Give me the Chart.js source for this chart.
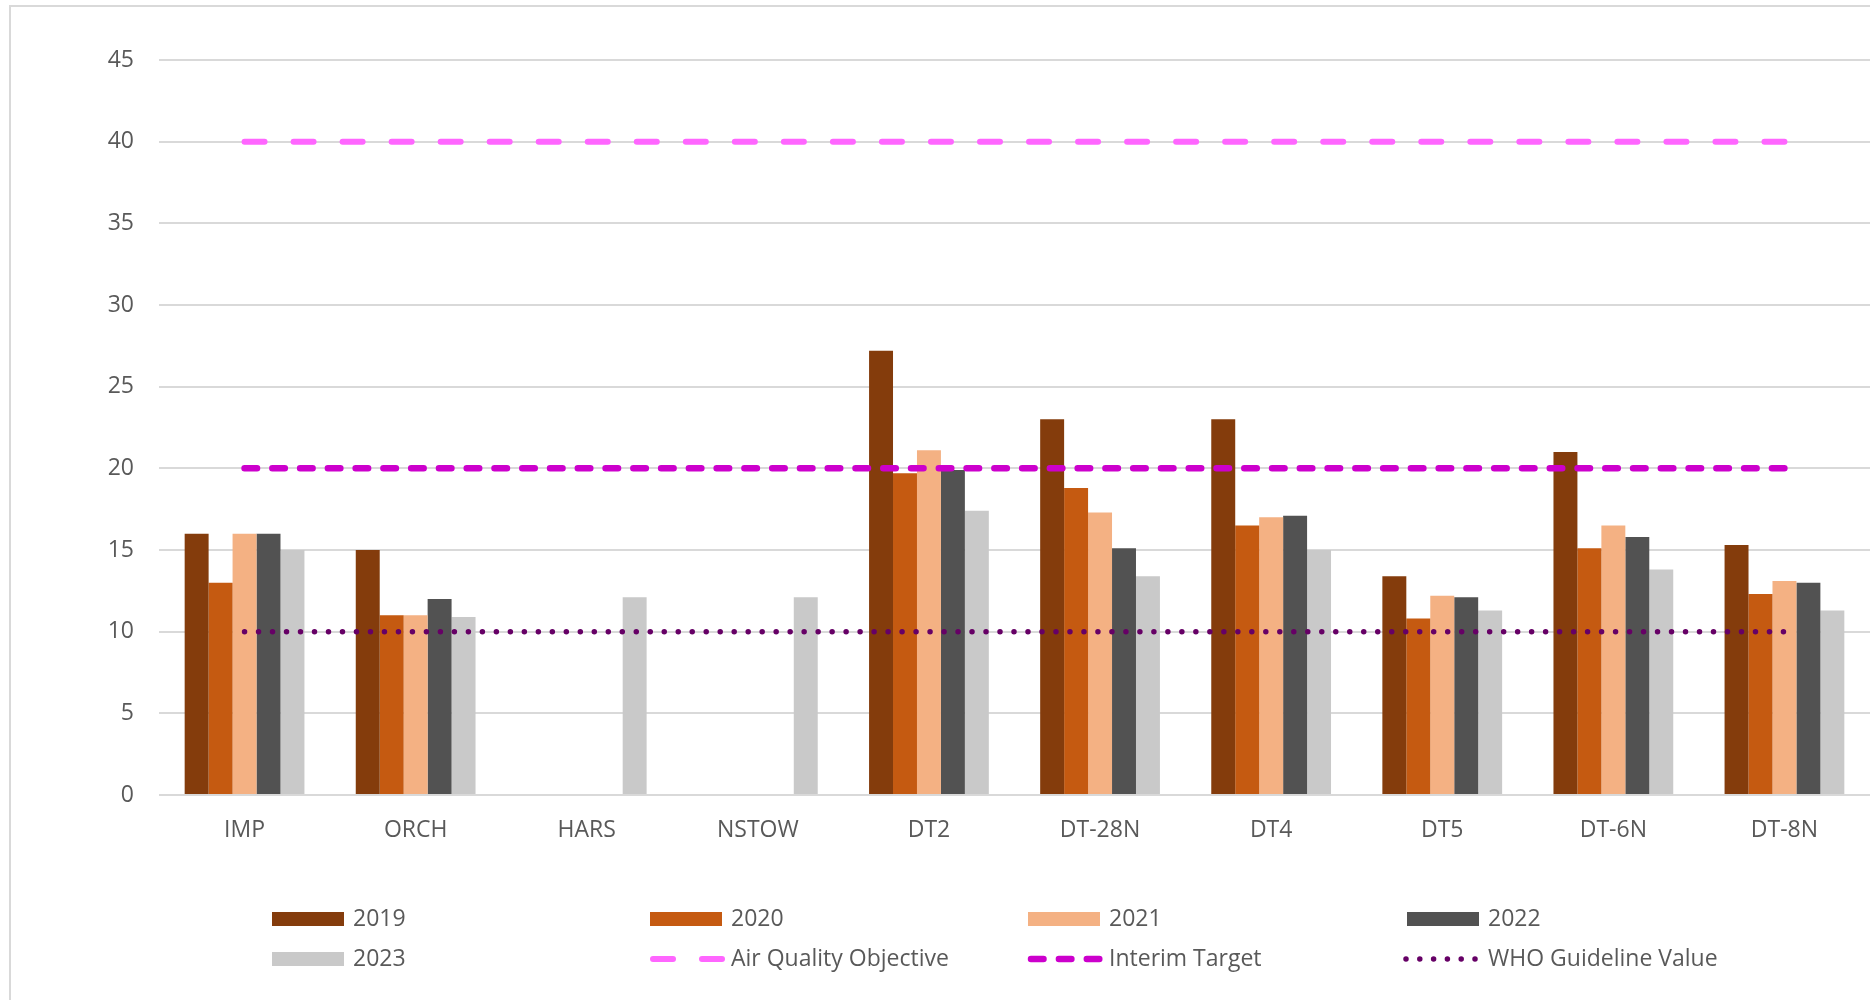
<!DOCTYPE html>
<html>
<head>
<meta charset="utf-8">
<title>NO2 annual mean by site</title>
<script src="https://cdn.jsdelivr.net/npm/chart.js@4.4.1/dist/chart.umd.min.js"></script>
<style>
  html, body { margin: 0; padding: 0; background: #fff; }
  #wrap { position: relative; width: 1870px; height: 1000px; overflow: hidden; }
  #frame { position: absolute; left: 9px; top: 5px; width: 1900px; height: 1100px;
           border-left: 2px solid #d9d9d9; border-top: 2px solid #d9d9d9; }
  #chart { position: absolute; left: 0; top: 0; }
</style>
</head>
<body>
<div id="wrap">
  <div id="frame"></div>
  <canvas id="chart" width="1870" height="1000"></canvas>
</div>
<script>
// Sites and yearly values
const sites = ['IMP', 'ORCH', 'HARS', 'NSTOW', 'DT2', 'DT-28N', 'DT4', 'DT5', 'DT-6N', 'DT-8N'];
const values2019 = [16.0, 15.0, null, null, 27.2, 23.0, 23.0, 13.4, 21.0, 15.3];
const values2020 = [13.0, 11.0, null, null, 19.7, 18.8, 16.5, 10.8, 15.1, 12.3];
const values2021 = [16.0, 11.0, null, null, 21.1, 17.3, 17.0, 12.2, 16.5, 13.1];
const values2022 = [16.0, 12.0, null, null, 19.9, 15.1, 17.1, 12.1, 15.8, 13.0];
const values2023 = [15.0, 10.9, 12.1, 12.1, 17.4, 13.4, 15.0, 11.3, 13.8, 11.3];

// Reference levels
const airQualityObjective = [40, 40, 40, 40, 40, 40, 40, 40, 40, 40];
const interimTarget = [20, 20, 20, 20, 20, 20, 20, 20, 20, 20];
const whoGuideline = [10, 10, 10, 10, 10, 10, 10, 10, 10, 10];

const yTicks = [0, 5, 10, 15, 20, 25, 30, 35, 40, 45];

const textColor = '#595959';
Chart.defaults.font.family = '"Open Sans", "Liberation Sans", sans-serif';
Chart.defaults.font.size = 23;
Chart.defaults.color = textColor;

function barSet(label, data, color) {
    return {
        type: 'bar',
        label: label,
        data: data,
        backgroundColor: color,
        borderWidth: 0,
        categoryPercentage: 0.7,
        barPercentage: 1.0,
        order: 1
    };
}

function lineSet(label, data, color, width, dash, legendDash, legendFrom, legendTo) {
    return {
        type: 'line',
        label: label,
        data: data,
        borderColor: color,
        borderWidth: width,
        borderDash: dash,
        borderCapStyle: 'round',
        pointRadius: 0,
        pointHoverRadius: 0,
        fill: false,
        order: 0,
        legendDash: legendDash,
        legendFrom: legendFrom,
        legendTo: legendTo
    };
}

// Legend laid out in a 4-column grid, like the original
const gridLegend = {
    id: 'gridLegend',
    afterDraw(chart) {
        const ctx = chart.ctx;
        const colX = [272, 650, 1028, 1407];
        const rowY = [919, 959];
        chart.data.datasets.forEach((ds, i) => {
            const x = colX[i % 4];
            const y = rowY[Math.floor(i / 4)];
            ctx.save();
            if (ds.type === 'line') {
                ctx.strokeStyle = ds.borderColor;
                ctx.lineWidth = ds.borderWidth;
                ctx.lineCap = 'round';
                ctx.setLineDash(ds.legendDash);
                ctx.beginPath();
                ctx.moveTo(x + ds.legendFrom, y);
                ctx.lineTo(x + ds.legendTo, y);
                ctx.stroke();
            } else {
                ctx.fillStyle = ds.backgroundColor;
                ctx.fillRect(x, y - 7, 72, 14);
            }
            ctx.setLineDash([]);
            ctx.fillStyle = textColor;
            ctx.font = '23px ' + Chart.defaults.font.family;
            ctx.textBaseline = 'middle';
            ctx.textAlign = 'left';
            ctx.fillText(ds.label, x + 81, y);
            ctx.restore();
        });
    }
};

const chart = new Chart(document.getElementById('chart'), {
    type: 'bar',
    data: {
        labels: sites,
        datasets: [
            barSet('2019', values2019, '#843c0c'),
            barSet('2020', values2020, '#c55a11'),
            barSet('2021', values2021, '#f4b183'),
            barSet('2022', values2022, '#525252'),
            barSet('2023', values2023, '#c9c9c9'),
            lineSet('Air Quality Objective', airQualityObjective, '#ff66ff', 6, [20, 29.03], [20, 29], 3, 72),
            lineSet('Interim Target', interimTarget, '#cc00cc', 6.5, [12.5, 15.27], [12.5, 15.4], 3, 72),
            lineSet('WHO Guideline Value', whoGuideline, '#660066', 5.5, [0, 13.99], [0, 13.8], -1, 69)
        ]
    },
    options: {
        responsive: false,
        animation: false,
        events: [],
        layout: { padding: { top: 60, left: 0, right: 0, bottom: 0 } },
        plugins: {
            legend: { display: false },
            tooltip: { enabled: false }
        },
        scales: {
            x: {
                grid: { display: false, drawTicks: false },
                border: { display: false },
                ticks: { padding: 22, color: textColor },
                afterFit(scale) { scale.height = 205; }
            },
            y: {
                min: 0,
                max: 45,
                afterBuildTicks(scale) { scale.ticks = yTicks.map(v => ({ value: v })); },
                grid: { color: '#d9d9d9', lineWidth: 2, drawTicks: false },
                border: { display: false },
                ticks: { padding: 25, color: textColor },
                afterFit(scale) { scale.width = 159; }
            }
        }
    },
    plugins: [gridLegend]
});
</script>
</body>
</html>
